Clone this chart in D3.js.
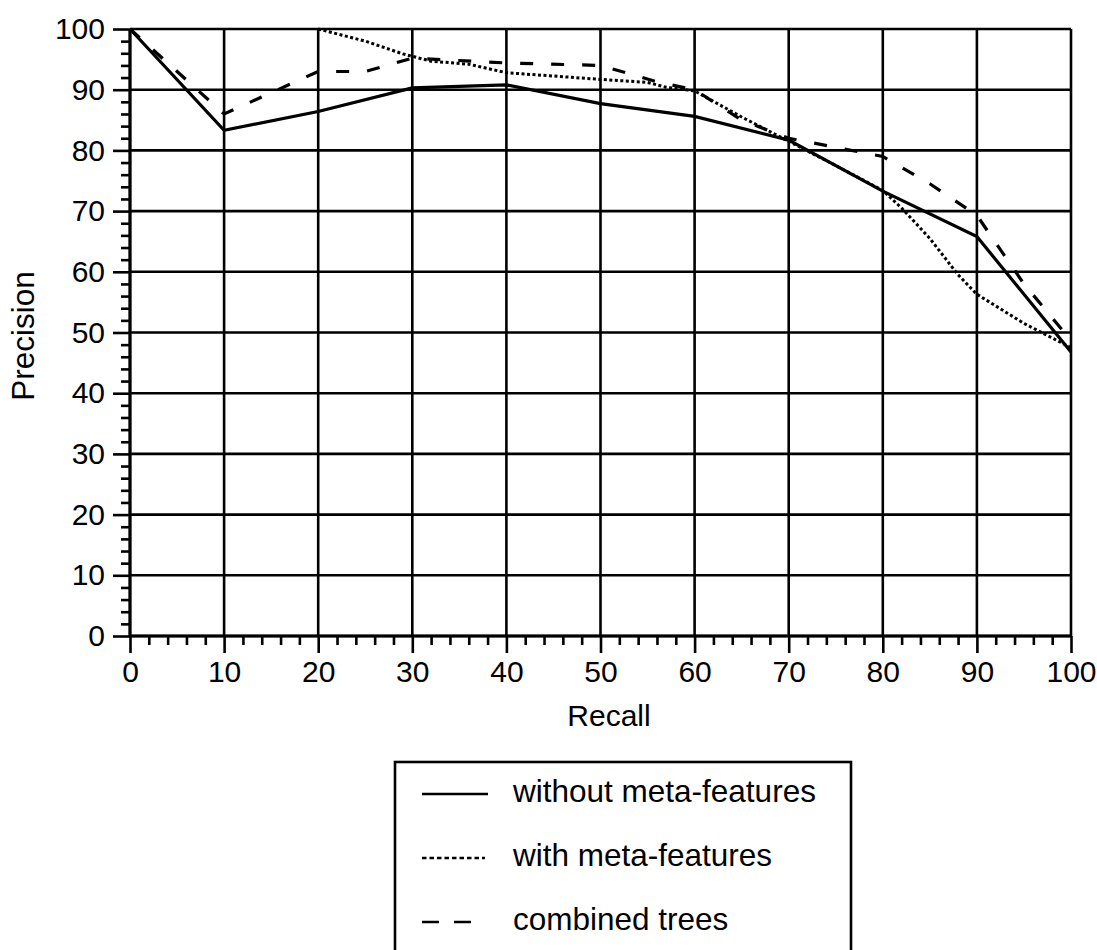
<!DOCTYPE html>
<html>
<head>
<meta charset="utf-8">
<script src="https://cdn.jsdelivr.net/npm/d3@7"></script>
<style>
  body { margin: 0; background: #fff; }
  svg { display: block; font-family: "Liberation Sans", Arial, Helvetica, sans-serif; }
</style>
</head>
<body>
<div id="chart"></div>
<script>
// recall / precision pairs
const withoutMeta = [
  [0, 100], [10, 83.3], [20, 86.4], [30, 90.3], [40, 90.8], [50, 87.7],
  [60, 85.6], [70, 81.7], [80, 73.3], [90, 65.8], [100, 46.8],
];
const withMeta = [
  [20, 100], [25, 98], [29, 95.9], [32, 94.7], [36, 94.2], [40, 92.8],
  [50, 91.7], [55, 91.2], [57, 90.4], [60, 89.8], [65, 85.5], [70, 81.5],
  [75, 77.5], [80, 73.4], [82, 70.5], [85, 65.5], [88, 59.5], [90, 56.3],
  [95, 51.5], [100, 47.5],
];
const combined = [
  [0, 100], [10, 86], [20, 93], [25, 93], [30, 95.2], [40, 94.4], [50, 94],
  [56, 91.3], [60, 90], [65, 85], [70, 82], [75, 80.5], [80, 79], [85, 74.5],
  [90, 69.3], [95, 58], [100, 48.7],
];

const seriesNames = ["without meta-features", "with meta-features", "combined trees"];
const majorTicks = d3.range(0, 101, 10);
const minorTicks = d3.range(0, 101, 2).filter((d) => d % 10 !== 0);

const width = 1097;
const height = 950;

const svg = d3
  .select("#chart")
  .append("svg")
  .attr("width", width)
  .attr("height", height)
  .attr("viewBox", `0 0 ${width} ${height}`);

const x = d3.scaleLinear().domain([0, 100]).range([130, 1071]);
const y = d3.scaleLinear().domain([0, 100]).range([636, 29]);

// grid
const grid = svg.append("g").attr("stroke", "#000").attr("stroke-width", 2.6);
grid
  .selectAll("line.v")
  .data(majorTicks)
  .join("line")
  .attr("class", "v")
  .attr("x1", (d) => x(d))
  .attr("x2", (d) => x(d))
  .attr("y1", y(0))
  .attr("y2", y(100));
grid
  .selectAll("line.h")
  .data(majorTicks)
  .join("line")
  .attr("class", "h")
  .attr("y1", (d) => y(d))
  .attr("y2", (d) => y(d))
  .attr("x1", x(0))
  .attr("x2", x(100));

// axes: majors with labels, minors without
function styleAxis(g) {
  g.select(".domain").remove();
  g.selectAll(".tick line").attr("stroke", "#000").attr("stroke-width", 2.6);
  g.selectAll(".tick text").attr("fill", "#000").attr("font-size", 30);
}

svg
  .append("g")
  .attr("transform", `translate(0,${y(0)})`)
  .call(d3.axisBottom(x).tickValues(majorTicks).tickSize(17).tickPadding(8))
  .call(styleAxis);
svg
  .append("g")
  .attr("transform", `translate(0,${y(0)})`)
  .call(d3.axisBottom(x).tickValues(minorTicks).tickSize(9).tickFormat(""))
  .call(styleAxis);
svg
  .append("g")
  .attr("transform", `translate(${x(0)},0)`)
  .call(d3.axisLeft(y).tickValues(majorTicks).tickSize(17).tickPadding(8))
  .call(styleAxis);
svg
  .append("g")
  .attr("transform", `translate(${x(0)},0)`)
  .call(d3.axisLeft(y).tickValues(minorTicks).tickSize(9).tickFormat(""))
  .call(styleAxis);

// thicker axis lines
svg
  .append("line")
  .attr("x1", x(0)).attr("x2", x(100))
  .attr("y1", y(0)).attr("y2", y(0))
  .attr("stroke", "#000").attr("stroke-width", 3);
svg
  .append("line")
  .attr("x1", x(0)).attr("x2", x(0))
  .attr("y1", y(0)).attr("y2", y(100))
  .attr("stroke", "#000").attr("stroke-width", 3);

svg
  .append("text")
  .attr("x", 609)
  .attr("y", 726)
  .attr("text-anchor", "middle")
  .attr("font-size", 30)
  .text("Recall");
svg
  .append("text")
  .attr("transform", `translate(34,336) rotate(-90)`)
  .attr("text-anchor", "middle")
  .attr("font-size", 31.5)
  .text("Precision");

// series
const styles = [
  { data: withoutMeta, width: 3.2, dash: null, legendLen: 66 },
  { data: withMeta, width: 3, dash: "3,2.5", legendLen: 63 },
  { data: combined, width: 3.2, dash: "13,18", legendLen: 49 },
];

const line = d3
  .line()
  .x((d) => x(d[0]))
  .y((d) => y(d[1]));

svg
  .append("g")
  .selectAll("path")
  .data(styles)
  .join("path")
  .attr("d", (d) => line(d.data))
  .attr("fill", "none")
  .attr("stroke", "#000")
  .attr("stroke-width", (d) => d.width)
  .attr("stroke-dasharray", (d) => d.dash);

// legend
const legend = svg.append("g");
legend
  .append("rect")
  .attr("x", 395)
  .attr("y", 762)
  .attr("width", 456)
  .attr("height", 220)
  .attr("fill", "none")
  .attr("stroke", "#000")
  .attr("stroke-width", 2.6);

const rows = legend
  .selectAll("g.row")
  .data(styles)
  .join("g")
  .attr("class", "row")
  .attr("transform", (d, i) => `translate(0,${802 + i * 64})`);

rows
  .append("line")
  .attr("x1", 422)
  .attr("x2", (d) => 422 + d.legendLen)
  .attr("y1", -8)
  .attr("y2", -8)
  .attr("stroke", "#000")
  .attr("stroke-width", 2.4)
  .attr("stroke-dasharray", (d, i) => (i === 1 ? "4.5,3" : i === 2 ? "17,15" : null));

rows
  .append("text")
  .attr("x", 513)
  .attr("y", 0)
  .attr("font-size", 31.5)
  .text((d, i) => seriesNames[i]);
</script>
</body>
</html>
